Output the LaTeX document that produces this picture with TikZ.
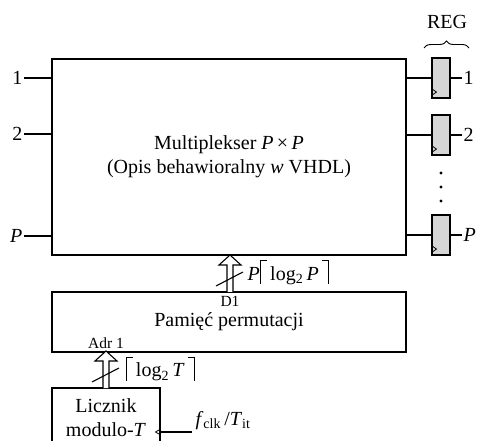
\documentclass[tikz,border=0pt]{standalone}
\usepackage{fontspec}
\setmainfont{Liberation Serif}
\usetikzlibrary{calc,decorations.pathreplacing}
\newcommand\bigfs{\fontsize{20}{24}\selectfont}
\newcommand\smallfs{\fontsize{15.5}{18}\selectfont}
\newcommand\ceilL{\rule[-4pt]{1.1pt}{24pt}\rule[18.9pt]{6pt}{1.1pt}}
\newcommand\ceilR{\rule[18.9pt]{6pt}{1.1pt}\rule[-4pt]{1.1pt}{24pt}}
\newcommand\hollowarr[2]{%
  \draw[fill=white] ($(#1)+(-3,0)$) -- ($(#2)+(-3,10)$) -- ($(#2)+(-11,10)$) -- (#2)
    -- ($(#2)+(11,10)$) -- ($(#2)+(3,10)$) -- ($(#1)+(3,0)$);
  \draw ($(#1)+(-14,-6)$) -- ($(#1)+(13,-20)$);}
\begin{document}
\begin{tikzpicture}[x=1pt,y=-1pt,line width=1.1pt,
  every node/.style={font=\bigfs},
  blk/.style={draw,inner sep=0pt,align=center},
  regbox/.style={draw,fill=black!16,minimum width=18pt,minimum height=40pt,inner sep=0pt},
  lab/.style={inner sep=1pt},
  small/.style={font=\smallfs,inner sep=0pt}]
\useasboundingbox (0,0) rectangle (480,441);
% main multiplexer
\node[blk,minimum width=354pt,minimum height=196pt] (mux) at (229,157)
  {Multiplekser \textit{P}\,×\,\textit{P}\\(Opis behawioralny \textit{w} VHDL)};
% permutation memory
\node[blk,minimum width=354pt,minimum height=60pt] (pam) at (229,322) {Pamięć permutacji};
% counter
\node[blk,minimum width=108pt,minimum height=60pt] (cnt) at (106,418) {Licznik\\modulo-\textit{T}};
% registers
\node[regbox] (r1) at (441,78) {};
\node[regbox] (r2) at (441,135) {};
\node[regbox] (rP) at (441,235) {};
\foreach \r in {r1,r2,rP}{
  \draw[line width=0.8pt] ([yshift=3pt]\r.south west) -- ([xshift=5pt,yshift=6.5pt]\r.south west) -- ([yshift=10pt]\r.south west);
  \draw (\r.west) -- (\r.west -| mux.east);
}
% dots
\foreach \yy in {173,187,201} \fill (441,\yy) circle (1.6pt);
% brace and label
\draw[line width=0.9pt,decorate,decoration={brace,amplitude=7pt}] (424,48) -- (469,48);
\node[lab] (reg) at (447,22) {REG};
% left inputs
\node[lab,anchor=east] (i1) at (24,78) {1};
\node[lab,anchor=east] (i2) at (24,134) {2};
\node[lab,anchor=east] (iP) at (24,236) {\textit{P}};
\foreach \i in {i1,i2,iP} \draw (\i.east) -- (\i.east -| mux.west);
% outputs
\node[lab,anchor=west] (o1) at (462,78) {1};
\node[lab,anchor=west] (o2) at (462,135) {2};
\node[lab,anchor=west] (oP) at (462,235) {\textit{P}};
\draw (r1.east) -- (o1.west);
\draw (r2.east) -- (o2.west);
\draw (rP.east) -- (oP.west);
% D1 bus
\coordinate (d1b) at (230,292);
\coordinate (d1t) at (230,255);
\hollowarr{d1b}{d1t}
\node[lab,anchor=base west] (d1lab) at (246,280) {\textit{P}\ceilL\,log\textsubscript{2}\,\textit{P}\,\ceilR};
\node[small] (d1) at (230,301) {D1};
% Adr bus
\coordinate (adb) at (106,388);
\coordinate (adt) at (106,351);
\hollowarr{adb}{adt}
\node[lab,anchor=base west] (adlab) at (124,377) {\ceilL\,log\textsubscript{2}\,\textit{T}\,\ceilR};
\node[small] (adr) at (106,343) {Adr 1};
% clock input
\coordinate (clkin) at (192,432);
\coordinate (clkp) at (cnt.east |- clkin);
\draw (clkin) -- (clkp);
\draw[line width=0.8pt] ([yshift=3pt]clkp) -- ([xshift=-5pt]clkp) -- ([yshift=-3pt]clkp);
\node[inner sep=0pt,anchor=base west] (clk) at (195,425) {\textit{f}\textsubscript{clk}\,/\textit{T}\textsubscript{it}};
\end{tikzpicture}
\end{document}
